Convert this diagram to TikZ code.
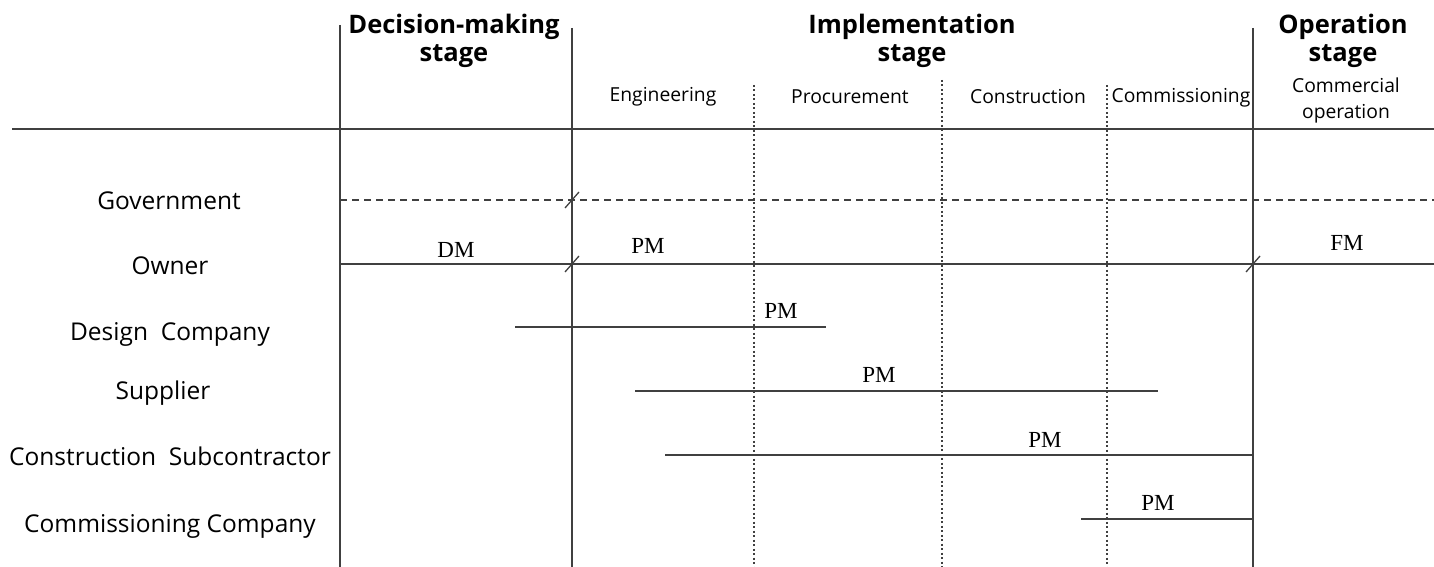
\documentclass[tikz,border=0pt]{standalone}
\usepackage{fontspec}
\setmainfont{Open Sans}
\newfontfamily\pmfont{Liberation Serif}
\begin{document}
\begin{tikzpicture}[x=1pt,y=-1pt,
  line/.style={draw=black!75,line width=1.3pt},
  dline/.style={draw=black!75,line width=1.1pt,dash pattern=on 2pt off 2.5pt},
  gline/.style={draw=black!75,line width=1.3pt,dash pattern=on 7pt off 5pt},
  head/.style={font=\bfseries\fontsize{25.5}{28}\selectfont,align=center,inner sep=0pt},
  sub/.style={font=\fontsize{19.3}{26}\selectfont,align=center,inner sep=0pt},
  actor/.style={font=\fontsize{24.5}{28}\selectfont,inner sep=0pt},
  lab/.style={font=\pmfont\fontsize{23}{26}\selectfont,inner sep=0pt},
  tick/.style={draw=black!75,line width=1.3pt}]
\useasboundingbox (0,0) rectangle (1434,567);
% header line
\coordinate (hl) at (12,129); \coordinate (hr) at (1434,129);
\draw[line] (hl) -- (hr);
% solid stage boundaries
\coordinate (v1t) at (340,25); \coordinate (v1b) at (340,567);
\coordinate (v2t) at (572,28); \coordinate (v2b) at (572,567);
\coordinate (v3t) at (1253,28); \coordinate (v3b) at (1253,567);
\draw[line] (v1t) -- (v1b);
\draw[line] (v2t) -- (v2b);
\draw[line] (v3t) -- (v3b);
% dashed sub-phase boundaries
\coordinate (d1t) at (754,85); \coordinate (d1b) at (754,567);
\coordinate (d2t) at (942,80); \coordinate (d2b) at (942,567);
\coordinate (d3t) at (1107,85); \coordinate (d3b) at (1107,567);
\draw[dline] (d1t) -- (d1b);
\draw[dline] (d2t) -- (d2b);
\draw[dline] (d3t) -- (d3b);
% headers
\node[head] (hdm) at (454,41) {Decision-making\\stage};
\node[head] (him) at (912,41) {Implementation\\stage};
\node[head] (hop) at (1343,41) {Operation\\stage};
\node[sub] (seng) at (663,97) {Engineering};
\node[sub] (spro) at (850,97) {Procurement};
\node[sub] (scon) at (1028,97) {Construction};
\node[sub] (scom) at (1181,98) {Commissioning};
\node[sub] (sco) at (1346,100) {Commercial\\operation};
% actors
\node[actor] (gov) at (169,201) {Government};
\node[actor] (own) at (170,266) {Owner};
\node[actor] (des) at (170,334) {Design\ \ Company};
\node[actor] (sup) at (163,393) {Supplier};
\node[actor] (csub) at (170,456) {Construction\ \ Subcontractor};
\node[actor] (ccom) at (170,526) {Commissioning Company};
% government dashed line
\coordinate (g1) at (340,200); \coordinate (g2) at (1434,200);
\draw[gline] (g1) -- (g2);
% owner line
\coordinate (o1) at (340,264); \coordinate (o2) at (1434,264);
\draw[line] (o1) -- (o2);
\node[lab] (dm) at (456,250) {DM};
\node[lab] (opm) at (648,246) {PM};
\node[lab] (fm) at (1347,243) {FM};
% design company
\coordinate (de1) at (515,327); \coordinate (de2) at (826,327);
\draw[line] (de1) -- (de2);
\node[lab] (dpm) at (781,311) {PM};
% supplier
\coordinate (su1) at (635,391); \coordinate (su2) at (1158,391);
\draw[line] (su1) -- (su2);
\node[lab] (spm) at (879,375) {PM};
% construction subcontractor
\coordinate (cs1) at (665,455); \coordinate (cs2) at (1253,455);
\draw[line] (cs1) -- (cs2);
\node[lab] (cpm) at (1045,440) {PM};
% commissioning company
\coordinate (cc1) at (1081,519); \coordinate (cc2) at (1253,519);
\draw[line] (cc1) -- (cc2);
\node[lab] (ccpm) at (1158,503) {PM};
% slash ticks
\foreach \p in {(572,200),(572,264),(1253,264)}{
  \draw[tick] \p ++(-7,8) -- ++(14,-16);
}
\end{tikzpicture}
\end{document}
